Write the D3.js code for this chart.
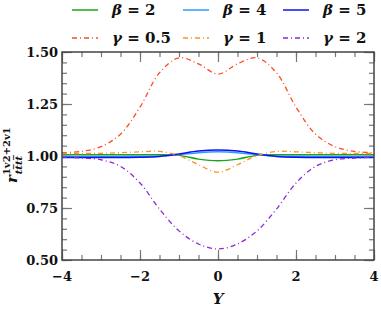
<!DOCTYPE html>
<html>
<head>
<meta charset="utf-8">
<script src="https://cdn.jsdelivr.net/npm/d3@7"></script>
<style>
  body { margin: 0; background: #fff; }
  text { font-family: "DejaVu Serif", serif; font-weight: bold; fill: #111; }
</style>
</head>
<body>
<svg id="svg" width="381" height="314"></svg>
<script>
/* global d3 */

const yValues = [-4, -3.5, -3, -2.5, -2, -1.5, -1, -0.5, 0, 0.5, 1, 1.5, 2, 2.5, 3, 3.5, 4];

const beta2 = [1.006, 1.006, 1.006, 1.006, 1.006, 1.006, 1.003, 0.985, 0.977, 0.985, 1.003, 1.006, 1.006, 1.006, 1.006, 1.006, 1.006];
const beta4 = [0.998, 0.998, 0.998, 0.998, 0.999, 1.0, 1.006, 1.016, 1.02, 1.016, 1.006, 1.0, 0.999, 0.998, 0.998, 0.998, 0.998];
const beta5 = [0.993, 0.993, 0.993, 0.993, 0.994, 0.998, 1.01, 1.024, 1.029, 1.024, 1.01, 0.998, 0.994, 0.993, 0.993, 0.993, 0.993];
const gamma05 = [1.016, 1.022, 1.045, 1.105, 1.235, 1.4, 1.472, 1.443, 1.394, 1.443, 1.472, 1.4, 1.235, 1.105, 1.045, 1.022, 1.016];
const gamma1 = [1.012, 1.012, 1.013, 1.016, 1.02, 1.022, 1.002, 0.958, 0.922, 0.958, 1.002, 1.022, 1.02, 1.016, 1.013, 1.012, 1.012];
const gamma2 = [0.995, 0.99, 0.982, 0.95, 0.87, 0.745, 0.64, 0.577, 0.553, 0.577, 0.64, 0.745, 0.87, 0.95, 0.982, 0.99, 0.995];

const xTicks = [-4, -2, 0, 2, 4];
const yTicks = [0.5, 0.75, 1.0, 1.25, 1.5];

const series = [
  { name: "β", val: "2", values: beta2, color: "#1aa51a", dash: null },
  { name: "β", val: "4", values: beta4, color: "#2f9bff", dash: null },
  { name: "β", val: "5", values: beta5, color: "#1010f0", dash: null },
  { name: "γ", val: "0.5", values: gamma05, color: "#ff4a22", dash: "5,3,1,3" },
  { name: "γ", val: "1", values: gamma1, color: "#ff9020", dash: "5,3,1,3" },
  { name: "γ", val: "2", values: gamma2, color: "#8a28d8", dash: "5,3,1,3" }
];

const margin = { top: 52, right: 7, bottom: 54, left: 62 };
const width = 381 - margin.left - margin.right;
const height = 314 - margin.top - margin.bottom;

const svg = d3.select("#svg");
const plot = svg.append("g").attr("transform", `translate(${margin.left},${margin.top})`);

const x = d3.scaleLinear().domain([-4, 4]).range([0, width]);
const y = d3.scaleLinear().domain([0.5, 1.5]).range([height, 0]);

// inward ticks on all four sides
const tickColor = "#777";
const addTicks = (axis, len, tv) => plot.append("g")
  .attr("transform", axis.t)
  .call(axis.a.tickValues(tv).tickSize(len).tickFormat(""))
  .call(g => g.select(".domain").remove())
  .call(g => g.selectAll("line").attr("stroke", tickColor).attr("stroke-width", 1.2));

const xMinor = d3.range(-4, 4.01, 0.5);
const yMinor = d3.range(0.5, 1.501, 0.05);

addTicks({ a: d3.axisTop(x), t: `translate(0,${height})` }, 5, xMinor);
addTicks({ a: d3.axisTop(x), t: `translate(0,${height})` }, 10, xTicks);
addTicks({ a: d3.axisBottom(x), t: "translate(0,0)" }, 5, xMinor);
addTicks({ a: d3.axisBottom(x), t: "translate(0,0)" }, 10, xTicks);
addTicks({ a: d3.axisRight(y), t: "translate(0,0)" }, 5, yMinor);
addTicks({ a: d3.axisRight(y), t: "translate(0,0)" }, 10, yTicks);
addTicks({ a: d3.axisLeft(y), t: `translate(${width},0)` }, 5, yMinor);
addTicks({ a: d3.axisLeft(y), t: `translate(${width},0)` }, 10, yTicks);

// lines
const line = d3.line()
  .x((d, i) => x(yValues[i]))
  .y(d => y(d))
  .curve(d3.curveCatmullRom.alpha(0.5));

plot.append("defs").append("clipPath").attr("id", "clip")
  .append("rect").attr("width", width).attr("height", height);

plot.append("g").attr("clip-path", "url(#clip)")
  .selectAll("path")
  .data(series)
  .join("path")
  .attr("d", d => line(d.values))
  .attr("fill", "none")
  .attr("stroke", d => d.color)
  .attr("stroke-width", d => d.dash ? 1.3 : 1.5)
  .attr("stroke-dasharray", d => d.dash);

// frame
plot.append("rect")
  .attr("width", width)
  .attr("height", height)
  .attr("fill", "none")
  .attr("stroke", "#444")
  .attr("stroke-width", 1.5);

// tick labels
plot.append("g")
  .selectAll("text")
  .data(xTicks)
  .join("text")
  .attr("x", d => x(d))
  .attr("y", height + 21)
  .attr("text-anchor", "middle")
  .attr("font-size", 13)
  .text(d => d < 0 ? "−" + Math.abs(d) : d);

plot.append("g")
  .selectAll("text")
  .data(yTicks)
  .join("text")
  .attr("x", -4)
  .attr("y", d => y(d) + 5)
  .attr("text-anchor", "end")
  .attr("font-size", 13)
  .text(d => d.toFixed(2));

// axis titles
plot.append("text")
  .attr("x", x(0))
  .attr("y", height + 44)
  .attr("text-anchor", "middle")
  .attr("font-size", 15)
  .attr("font-style", "italic")
  .text("Y");

const yTitle = svg.append("text")
  .attr("transform", "translate(17,183) rotate(-90)")
  .attr("font-size", 15);
yTitle.append("tspan").attr("font-style", "italic").text("r");
yTitle.append("tspan").attr("font-size", 10).attr("dy", -7).text("1v2+2v1");
yTitle.append("tspan").attr("font-size", 10).attr("font-style", "italic")
  .attr("dx", -47).attr("dy", 12).text("tt\u0305tt\u0305");

// legend
const legend = svg.append("g")
  .selectAll("g")
  .data(series)
  .join("g")
  .attr("transform", (d, i) => `translate(${[72, 183, 283][i % 3]},${i < 3 ? 10 : 38})`);

legend.append("line")
  .attr("x1", 0)
  .attr("x2", 26)
  .attr("stroke", d => d.color)
  .attr("stroke-width", d => d.dash ? 1.3 : 1.5)
  .attr("stroke-dasharray", d => d.dash);

legend.append("text")
  .attr("x", 40)
  .attr("y", 5)
  .attr("font-size", 15)
  .call(t => t.append("tspan").attr("font-style", "italic").text(d => d.name))
  .call(t => t.append("tspan").text(d => " = " + d.val));
</script>
</body>
</html>
